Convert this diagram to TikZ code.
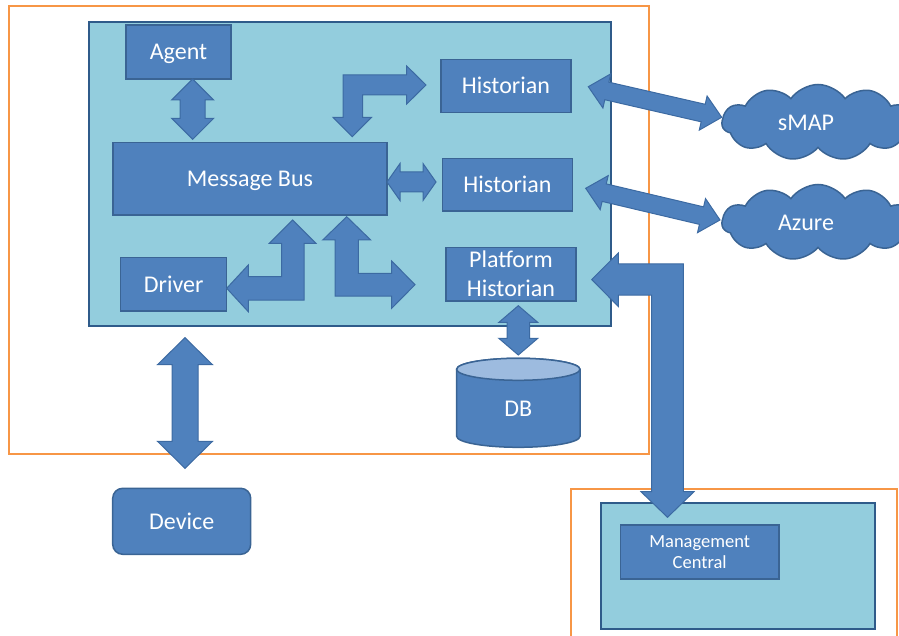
\documentclass[tikz,border=0pt]{standalone}
\usepackage{fontspec}
\setmainfont{Carlito}
\usetikzlibrary{shapes.symbols}
\definecolor{blk}{HTML}{4F81BD}
\definecolor{blkline}{HTML}{3A6494}
\definecolor{panelc}{HTML}{93CDDD}
\definecolor{panelline}{HTML}{2F5B8A}
\definecolor{orangec}{HTML}{F79646}
\definecolor{arrline}{HTML}{3C6AA2}
\definecolor{dbtop}{HTML}{9DBBDF}
\tikzset{
  box/.style={draw=blkline, fill=blk, line width=1.5pt, text=white,
    font=\fontsize{24}{29}\selectfont, inner sep=0pt, align=center},
  oneline/.style={text height=18pt, text depth=2.5pt},
  panelbox/.style={draw=panelline, fill=panelc, line width=1.6pt},
  orangeframe/.style={draw=orangec, line width=2pt},
  blockarrow/.style={fill=blk, draw=arrline, line width=1pt, line join=miter},
  cloudbox/.style={cloud, cloud puffs=11, cloud puff arc=110, aspect=2.5,
    draw=blkline, fill=blk, line width=1.5pt, inner sep=0pt},
  cloudtext/.style={text=white, font=\fontsize{24}{29}\selectfont, text height=18pt, text depth=2.5pt}
}
% straight double block arrow: x1 y1 x2 y2 shafthalf headhalf headlen
\newcommand\DArrow[7]{%
  \pgfmathsetmacro\dax{#3-(#1)}%
  \pgfmathsetmacro\day{#4-(#2)}%
  \pgfmathsetmacro\dal{veclen(\dax,\day)}%
  \pgfmathsetmacro\daa{atan2(\day,\dax)}%
  \pgfmathsetmacro\dab{\dal-#7}%
  \begin{scope}[shift={(#1,#2)},rotate={0-(\daa)}]
    \filldraw[blockarrow] (0,0) -- (#7,#6) -- (#7,#5) -- (\dab,#5) -- (\dab,#6)
      -- (\dal,0) -- (\dab,-#6) -- (\dab,-#5) -- (#7,-#5) -- (#7,-#6) -- cycle;
  \end{scope}}
\begin{document}
\begin{tikzpicture}[x=1pt,y=-1pt]
\useasboundingbox (0,0) rectangle (899,636);
\begin{scope}
\clip (0,0) rectangle (899,636);
% frames and panels
\draw[orangeframe, fill=white] (9,6) rectangle (649,454);
\draw[panelbox] (89,22) rectangle (611,326);
\draw[orangeframe, fill=white] (571,489) rectangle (897,660);
\draw[panelbox] (601,502.7) rectangle (875,629);
% clouds
\node[cloudbox, minimum width=192, minimum height=76,
  label={[cloudtext, xshift=-12pt]center:sMAP}] (smap) at (818,122.5) {};
\node[cloudbox, minimum width=192, minimum height=76,
  label={[cloudtext, xshift=-12pt]center:Azure}] (azure) at (818,222.5) {};
\end{scope}
% boxes
\node[box, oneline, minimum width=105, minimum height=54] (agent) at (178.5,52) {Agent};
\node[box, oneline, minimum width=273.7, minimum height=72.3] (bus) at (249.9,178.9) {Message Bus};
\node[box, oneline, minimum width=106, minimum height=53.3] (driver) at (173.7,284.3) {Driver};
\node[box, oneline, minimum width=129.7, minimum height=53.4] (hist1) at (505.9,86) {Historian};
\node[box, oneline, minimum width=129.6, minimum height=52.7] (hist2) at (507.5,184.7) {Historian};
\node[box, minimum width=129.7, minimum height=53.7] (plat) at (510.9,274.2) {Platform\\Historian};
\node[box, oneline, rounded corners=10pt, minimum width=138, minimum height=66] (device) at (181.7,521.3) {Device};
\node[box, minimum width=158.7, minimum height=54, font=\fontsize{18.5}{21.7}\selectfont] (mgmt) at (699.7,552) {Management\\Central};
% database cylinder
\node[minimum width=123.3, minimum height=89, inner sep=0pt] (db) at (518.3,402.8) {};
\filldraw[fill=blk, draw=blkline, line width=1.5pt] (456.7,369.3) -- (456.7,436.3)
  arc (180:360:61.65pt and 11pt) -- (580,369.3) arc (0:180:61.65pt and 11pt) -- cycle;
\filldraw[fill=dbtop, draw=blkline, line width=1.5pt] (518.3,369.3) ellipse (61.65pt and 11pt);
\node[cloudtext] at (518.3,409) {DB};
% straight double arrows
\DArrow{192.7}{79}{192.7}{139.3}{12.5}{21}{21}
\DArrow{387}{182}{436}{182}{10}{18.5}{13}
\DArrow{588.3}{86.7}{721.7}{117.3}{9}{17.5}{19}
\DArrow{585.7}{188.3}{720}{220}{9}{17.5}{19}
\DArrow{518.3}{305.7}{518.3}{355}{11.3}{19.5}{16.7}
\DArrow{185}{337.7}{185}{468.3}{13}{27.5}{27}
% bent arrows
\filldraw[blockarrow] (352.3,136.7) -- (371.5,117.3) -- (362.5,117.3) -- (362.5,95)
  -- (406.7,95) -- (406.7,104) -- (426,85) -- (406.7,66) -- (406.7,75)
  -- (343,75) -- (343,117.3) -- (333,117.3) -- cycle;
\filldraw[blockarrow] (226.7,288.3) -- (248.3,265) -- (248.3,276.7) -- (281.7,276.7)
  -- (281.7,243.3) -- (269.3,243.3) -- (292.7,220) -- (316,243.3) -- (304,243.3)
  -- (304,300) -- (248.3,300) -- (248.3,311.7) -- cycle;
\filldraw[blockarrow] (346.7,216.7) -- (370.7,240) -- (358.3,240) -- (358.3,273.3)
  -- (391.7,273.3) -- (391.7,261) -- (415,284.7) -- (391.7,308.3) -- (391.7,296)
  -- (335,296) -- (335,240) -- (322.7,240) -- cycle;
\filldraw[blockarrow] (591.7,279.5) -- (618.3,253) -- (618.3,264) -- (683.3,264)
  -- (683.3,491.7) -- (694,491.7) -- (667.5,517.3) -- (641,491.7) -- (651.7,491.7)
  -- (651.7,295) -- (618.3,295) -- (618.3,306.5) -- cycle;
\end{tikzpicture}
\end{document}
